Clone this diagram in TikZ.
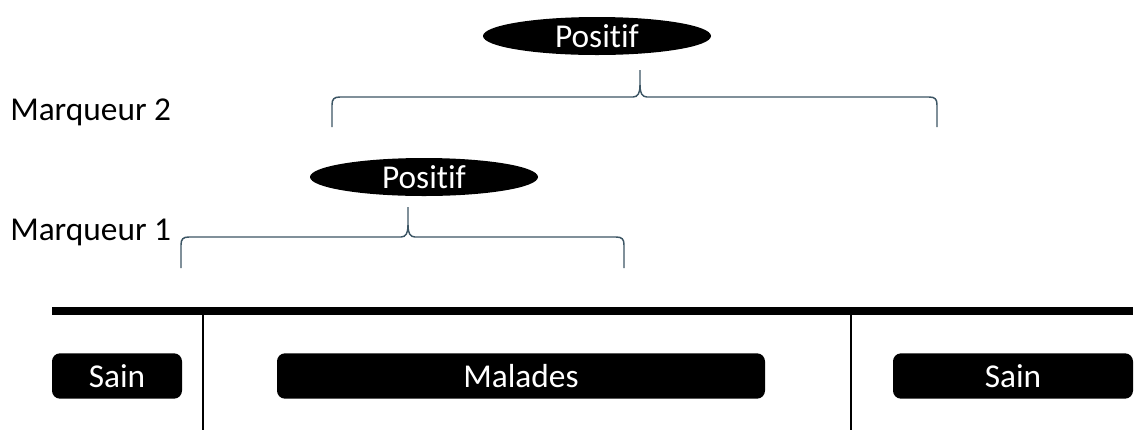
\documentclass[tikz,border=0pt]{standalone}
\usepackage{fontspec}
\setmainfont[Ligatures={NoCommon}]{Carlito}
\usetikzlibrary{shapes.geometric}
\definecolor{bracecol}{RGB}{60,85,100}
\begin{document}
\begin{tikzpicture}[x=0.75pt,y=-0.75pt,
  txt/.style={font=\fontsize{25}{30}\selectfont, inner sep=0pt},
  oval/.style={ellipse, fill=black, text=white, minimum width=171pt, minimum height=28.5pt, inner sep=0pt, font=\fontsize{25}{30}\selectfont},
  pill/.style={rounded corners=6pt, fill=black, text=white, minimum height=34pt, inner sep=0pt, font=\fontsize{25}{30}\selectfont},
  bracestyle/.style={draw=bracecol, line width=1.1pt},
  rule/.style={draw=black, line width=1.1pt}]
\useasboundingbox (0,0) rectangle (1138,430);
% texts
\node[txt, anchor=west] (m2) at (10,112) {Marqueur 2};
\node[txt, anchor=west] (m1) at (10,232) {Marqueur 1};
% ovals
\node[oval] (p2) at (597,36) {Positif};
\node[oval] (p1) at (424,177) {Positif};
% brace 2
\draw[bracestyle] (332,127) -- (332,105) .. controls (332,99) and (334,97) .. (340,97)
  -- (633,97) .. controls (638,97) and (640,93) .. (640,85) -- (640,70);
\draw[bracestyle] (640,85) .. controls (640,93) and (642,97) .. (647,97)
  -- (929,97) .. controls (935,97) and (937,99) .. (937,105) -- (937,127);
% brace 1
\draw[bracestyle] (181,268) -- (181,245) .. controls (181,239) and (183,237) .. (189,237)
  -- (401,237) .. controls (406,237) and (408,233) .. (408,225) -- (408,207);
\draw[bracestyle] (408,225) .. controls (408,233) and (410,237) .. (415,237)
  -- (616,237) .. controls (622,237) and (624,239) .. (624,245) -- (624,268);
% axis
\coordinate (a0) at (52,311);
\coordinate (a1) at (1133,311);
\draw[line width=6pt] (a0) -- (a1);
\coordinate (v1t) at (203,311);
\coordinate (v1b) at (203,430);
\coordinate (v2t) at (851,311);
\coordinate (v2b) at (851,430);
\draw[rule] (v1t) -- (v1b);
\draw[rule] (v2t) -- (v2b);
% boxes
\node[pill, minimum width=97.5pt] (s1) at (117,376) {Sain};
\node[pill, minimum width=366pt] (mal) at (521,376) {Malades};
\node[pill, minimum width=180pt] (s2) at (1013,376) {Sain};
\end{tikzpicture}
\end{document}
